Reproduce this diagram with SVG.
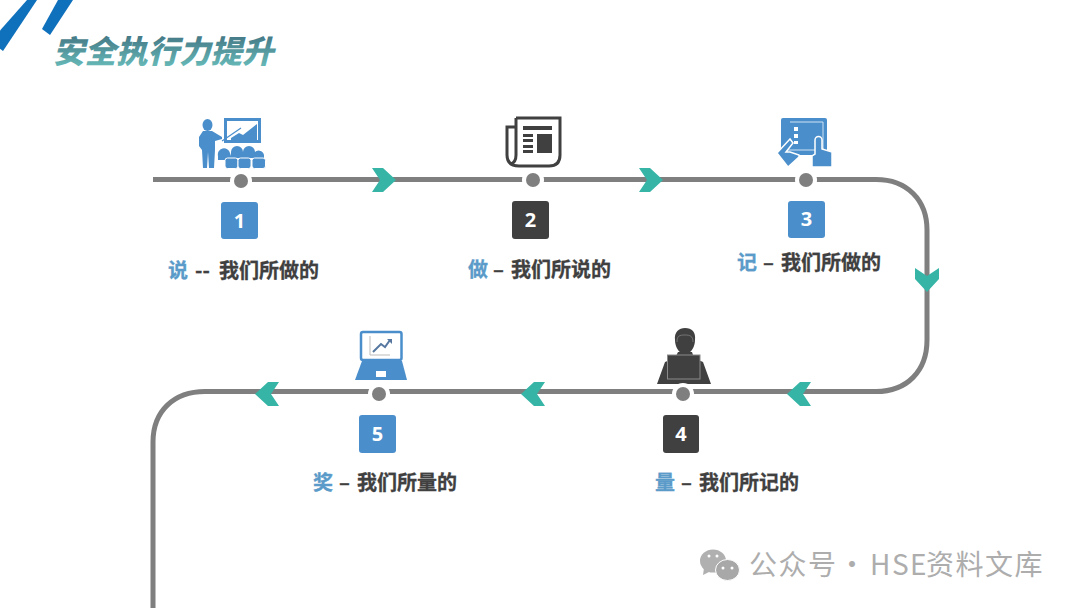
<svg xmlns="http://www.w3.org/2000/svg" width="1080" height="608" viewBox="0 0 1080 608">
<style>
.cjk{font-family:"Noto Sans CJK SC","Noto Sans",sans-serif}
.lab{font-size:20px;font-weight:700;fill:#404040;stroke:#404040;stroke-width:.3}
.key{fill:#5b9bc9;stroke:#5b9bc9}
.num{font-family:"Open Sans","Liberation Sans",sans-serif;font-size:20px;font-weight:700;fill:#fff;text-anchor:middle}
.chev{fill:#36b5a7}
.blue{fill:#4a8ecb}
.dark{fill:#404040}
.halo{fill:#fff}
.dot{fill:#7f7f7f}
.wm{font-size:28px;letter-spacing:1.500px;fill:#adadad}
</style>
<defs>
<linearGradient id="tg" x1="0" y1="0" x2="0" y2="1"><stop offset="0" stop-color="#3b6678"/><stop offset="1" stop-color="#6cc4c0"/></linearGradient>
<path id="ch" d="M-12-12H-1L12 0L-1 12H-12L-4 0Z"/>
</defs>
<rect width="1080" height="608" fill="#fff"/>
<g id="title">
<path d="M27 0H37L3 51L-5 45V36Z" fill="#0f70bb"/>
<path d="M58 0H73L50 35L42 29Z" fill="#0f70bb"/>
<text class="cjk" transform="translate(53 63) skewX(-14)" font-size="31.500" font-weight="900" fill="url(#tg)">安全执行力提升</text>
</g>
<g id="connectors">
<path d="M153 179.500H876C907 179.500 927 200 927 230V340C927 371 907 391.500 876 391.500H205C174 391.500 153 411 153 442V608" fill="none" stroke="#7f7f7f" stroke-width="5"/>
<use href="#ch" class="chev" x="384" y="180"/>
<use href="#ch" class="chev" x="651" y="180"/>
<use href="#ch" class="chev" transform="translate(927 280) rotate(90)"/>
<use href="#ch" class="chev" transform="translate(799 394) rotate(180)"/>
<use href="#ch" class="chev" transform="translate(533 394) rotate(180)"/>
<use href="#ch" class="chev" transform="translate(267 394) rotate(180)"/>
</g>
<g id="node1">
<g class="blue">
<ellipse cx="207.500" cy="125" rx="5" ry="6"/>
<path d="M203 131H212L222 137L222 139L215 141V150L214 168H209L208 152L207 168H203L202 150L199 146V137Z"/>
<path d="M224 118H261V143H224ZM227 121V140H258V121Z" fill-rule="evenodd"/>
<path d="M231 138L239 133L243 135L257 124V140H231Z"/>
<path d="M222 141L241 128" stroke="#4a8ecb" stroke-width="1.200" fill="none"/>
<path d="M218 156a6 6 0 0 1 12-3l1 3v4h-13ZM231 152a6 6 0 0 1 12 0v6h-12ZM243 152a6 6 0 0 1 12 0v6h-12ZM254 153a5.500 5.500 0 0 1 10 2v5h-10Z"/>
<g stroke="#fff" stroke-width="1"><rect x="225" y="158" width="13" height="10.500" rx="2.500"/><rect x="238" y="158" width="13" height="10.500" rx="2.500"/><rect x="252" y="158" width="13.500" height="10.500" rx="2.500"/></g>
</g>
<circle class="halo" cx="241" cy="181" r="11"/><circle class="dot" cx="241" cy="181" r="7"/>
<rect class="blue" x="221" y="202" width="37" height="37" rx="3"/>
<text class="num" x="239.500" y="228">1</text>
<text class="cjk lab" y="278"><tspan class="key" x="168">说</tspan><tspan x="195">--</tspan><tspan x="219">我们所做的</tspan></text>
</g>
<g id="node2">
<path d="M516 118H560V155Q560 166 549 166H519Q507 166 507 155V127H516" fill="none" stroke="#404040" stroke-width="3"/>
<path d="M516 118V155Q516 162 511 164" fill="none" stroke="#404040" stroke-width="3"/>
<g class="dark"><rect x="523" y="126" width="29" height="4"/><rect x="523" y="134" width="10" height="3"/><rect x="523" y="139" width="10" height="3"/><rect x="523" y="145" width="10" height="3"/><rect x="523" y="150" width="10" height="3"/><rect x="537" y="134" width="15" height="19"/></g>
<circle class="halo" cx="533" cy="180" r="11"/><circle class="dot" cx="533" cy="180" r="7"/>
<rect class="dark" x="512" y="201" width="37" height="38" rx="3"/>
<text class="num" x="530.500" y="227">2</text>
<text class="cjk lab" y="277"><tspan class="key" x="468">做</tspan><tspan x="493">–</tspan><tspan x="511">我们所说的</tspan></text>
</g>
<g id="node3">
<rect class="blue" x="781" y="118" width="46" height="37" rx="2"/>
<path d="M790 122H823V150H786" fill="none" stroke="#cfe2f3" stroke-width="1"/>
<g fill="#fff"><rect x="794" y="127" width="4" height="4"/><rect x="794" y="134" width="4" height="4"/><rect x="794" y="141" width="4" height="3"/></g>
<path class="blue" d="M790 139L777 153L788 167L799 157V155L790 152L786 152L793 143Z" stroke="#fff" stroke-width="1.500"/>
<path class="blue" d="M815 140a3.500 3.500 0 0 1 7 0V149L832 152V167H812L812 156L815 154Z" stroke="#fff" stroke-width="1.500"/>
<circle class="halo" cx="806" cy="180" r="11"/><circle class="dot" cx="806" cy="180" r="7"/>
<rect class="blue" x="788" y="201" width="37" height="37" rx="3"/>
<text class="num" x="806.500" y="226">3</text>
<text class="cjk lab" y="270"><tspan class="key" x="737">记</tspan><tspan x="763">–</tspan><tspan x="781">我们所做的</tspan></text>
</g>
<g id="node4">
<g class="dark"><path d="M675 340C674 332 679 328 685 328C692 328 696 332 695 340C695 346 692 351 689 353H681C678 351 675 346 675 340Z"/><path d="M678 352H692L694 358L703 362L711 384H657L665 362L675 358Z"/></g>
<path d="M677 342C677 336 679 335 685 335C690 335 693 336 693 342" fill="none" stroke="#8a8a8a" stroke-width=".7"/>
<rect x="667.500" y="355" width="32.500" height="24" fill="#404040" stroke="#8a8a8a" stroke-width="1"/>
<circle class="halo" cx="683" cy="394" r="11"/><circle class="dot" cx="683" cy="394" r="7"/>
<rect class="dark" x="663" y="415" width="36" height="38" rx="3"/>
<text class="num" x="681" y="441">4</text>
<text class="cjk lab" y="490"><tspan class="key" x="655">量</tspan><tspan x="681">–</tspan><tspan x="699">我们所记的</tspan></text>
</g>
<g id="node5">
<rect x="361" y="332" width="40.500" height="28" rx="2" fill="#fff" stroke="#4a8ecb" stroke-width="2.500"/>
<path d="M370 336V355H390" fill="none" stroke="#bbb" stroke-width="1"/>
<path d="M373 352L381 344L385 347L390 340" fill="none" stroke="#5678a0" stroke-width="2"/>
<path d="M387 339H392V344Z" fill="#5678a0"/>
<path class="blue" d="M362 361H402L407 380H355Z"/>
<rect x="376" y="371" width="10" height="6" fill="#fff"/>
<circle class="halo" cx="379" cy="394" r="11"/><circle class="dot" cx="379" cy="394" r="7"/>
<rect class="blue" x="359" y="415" width="37" height="38" rx="3"/>
<text class="num" x="377.500" y="441">5</text>
<text class="cjk lab" y="490"><tspan class="key" x="313">奖</tspan><tspan x="339">–</tspan><tspan x="357">我们所量的</tspan></text>
</g>
<g id="watermark">
<ellipse cx="713" cy="561" rx="13" ry="11.500" fill="#b0b0b0"/>
<path d="M704 568L703 575L711 571Z" fill="#b0b0b0"/>
<ellipse cx="727.500" cy="570" rx="12" ry="10.500" fill="#a8a8a8" stroke="#fff" stroke-width="1"/>
<circle cx="709" cy="556" r="1.500" fill="#fff"/><circle cx="717" cy="556" r="1.500" fill="#fff"/>
<circle cx="723" cy="568" r="1.500" fill="#fff"/><circle cx="732" cy="568" r="1.500" fill="#fff"/>
<text class="cjk wm" y="575"><tspan x="749">公众号</tspan><tspan x="838">·</tspan><tspan x="870">HSE</tspan><tspan x="926">资料文库</tspan></text>
</g>
</svg>
